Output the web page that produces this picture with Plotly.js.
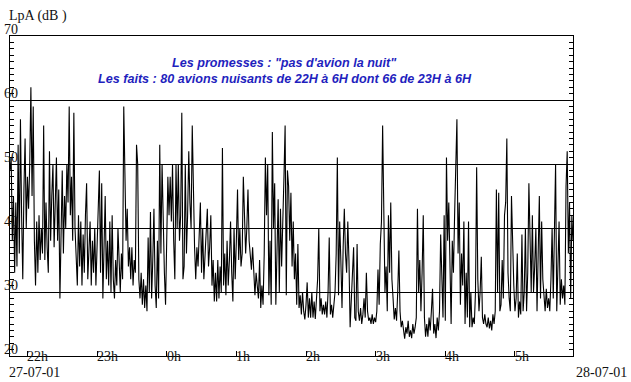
<!DOCTYPE html>
<html>
<head>
<meta charset="utf-8">
<script src="https://cdn.plot.ly/plotly-3.0.1.min.js"></script>
<style>html,body{margin:0;padding:0;background:#fff;}#chart{width:631px;height:382px;}</style>
</head>
<body>
<div id="chart"></div>
<script>
// Sampling: one value per minute, starting 27-07-01 21:45 (hour 21.75)
const startHour = 21.75;
const stepMinutes = 1;

// LpA levels in dB, one per minute
const levels = [
49, 51, 38, 45, 33, 44, 34, 53, 36, 57,
42, 32, 46, 54, 40, 48, 43, 50, 62, 45,
59, 38, 31, 41, 33, 42, 35, 40, 36, 56,
35, 44, 37, 33, 52, 38, 45, 50, 37, 44,
51, 38, 46, 29, 40, 49, 36, 45, 40, 50,
44, 59, 42, 48, 38, 58, 40, 35, 31, 42,
34, 41, 31, 39, 33, 42, 47, 32, 36, 41,
31, 38, 33, 40, 31, 36, 41, 49, 33, 47,
29, 36, 45, 32, 38, 31, 41, 30, 42, 32,
29, 35, 31, 40, 33, 30, 36, 32, 59, 45,
38, 43, 34, 37, 32, 37, 31, 35, 33, 53,
50, 32, 29, 33, 28, 32, 27.5, 31, 27, 38.5,
30, 42.5, 29, 35, 43, 31, 27.5, 38, 29, 53,
36, 50, 38, 33, 28, 40, 48, 42, 48, 41,
50, 38, 32, 50, 40, 50, 38, 42, 58, 32,
34, 50, 36, 42, 52, 44, 40, 56, 44, 37,
32, 37, 34, 39, 44, 33, 40, 32, 36, 38,
43, 34, 37, 42, 31, 35, 28.5, 33, 28.5, 35,
29, 34, 30, 52.5, 31, 36, 29.5, 38, 31, 35,
41, 33, 28.5, 40, 32, 38, 46, 35, 40, 34,
36, 48, 42, 36, 40, 46, 38, 35, 33.5, 37,
32, 29.5, 33, 31, 29, 35, 27.5, 31, 28, 36,
51, 42, 50, 29.5, 38, 28, 55, 40, 47, 28,
35, 44.5, 30, 43, 34, 40, 48, 56, 29.5, 49,
46.5, 38, 45.5, 34, 41, 32, 36, 28, 37.5, 27.5,
29.5, 26.5, 30, 27, 25.7, 28, 31.5, 26, 29, 26,
30, 26, 28.5, 25.8, 29, 32, 40, 27, 29, 26.5,
28, 26.5, 28.5, 26, 30, 38.5, 26.5, 28, 26, 28.5,
30, 36, 51, 29.5, 41, 35, 27.5, 37, 43, 36,
33, 41, 35, 24.5, 28, 32, 37, 26, 25.5, 37.5,
27, 25.5, 27.5, 25, 26.5, 29, 26, 33, 27, 25.5,
26, 25, 26.5, 25, 26, 25.3, 27, 33.5, 28, 37.5,
41, 56, 38, 30, 34, 27, 42, 33, 44, 32,
29, 25.7, 27.5, 25.5, 30, 36.5, 27, 24.5, 25.5, 23.5,
22.7, 24.5, 23.5, 25.5, 23, 24, 22.8, 25, 23.5, 24.5,
26, 43, 30, 35, 27, 33, 42, 26, 23, 25,
23, 26, 24, 27, 30.5, 23.5, 25, 22.8, 26, 24,
27, 39, 30, 26, 42, 25.5, 51, 38, 44, 33,
25, 38, 33, 42, 48, 57, 36, 44, 28, 36,
31, 41, 25, 33, 26, 41, 24.5, 30, 24.5, 26,
25, 30, 49.5, 32, 27, 30, 35.5, 26, 25, 26.5,
25, 24.5, 26, 24.3, 25.5, 24, 26.5, 25, 27, 46,
30, 45.5, 27, 28, 35, 29, 42, 44, 54, 33,
29, 27, 45, 37, 31, 27, 29, 36, 26, 28.5,
26.5, 39, 27, 30, 40, 27, 33, 47, 36, 30,
42, 30, 34, 40, 27, 34, 45, 29, 41, 32,
30, 27, 30.5, 27.5, 29, 27, 32, 40, 29, 37,
50, 27, 35, 41, 28, 32, 29, 31, 28, 46.5,
52, 36, 44, 29, 42, 38
];

// Axis ticks
const hourTicks = [22, 23, 24, 25, 26, 27, 28, 29];
const hourLabels = ["22h", "23h", "0h", "1h", "2h", "3h", "4h", "5h"];
const dbTicks = [20, 30, 40, 50, 60, 70];
const dbLabels = ["20", "30", "40", "50", "60", "70"];
const xRange = [21.75, 29.8333];
const yRange = [20, 70];

const yTitle = "LpA (dB )";
const startDate = "27-07-01";
const endDate = "28-07-01";
const titleLines = ["Les promesses : \"pas d'avion la nuit\"",
                    "Les faits : 80 avions nuisants de 22H à 6H dont 66 de 23H à 6H"];

const times = levels.map((v, i) => startHour + i * stepMinutes / 60);

const serif = "Liberation Serif, Times New Roman, serif";
const blue = "#1f1fbe";

const annotations = [];
dbTicks.forEach((v, i) => {
  annotations.push({xref: "paper", yref: "y", x: 0, y: v, text: dbLabels[i],
    xanchor: "left", yanchor: "bottom", xshift: -8, yshift: -3, showarrow: false,
    font: {family: serif, size: 14, color: "#111"}});
});
hourTicks.forEach((h, i) => {
  annotations.push({xref: "x", yref: "paper", x: h, y: 0, text: hourLabels[i],
    xanchor: "left", yanchor: "middle", xshift: -2, yshift: 0, showarrow: false,
    font: {family: serif, size: 14, color: "#111"}});
});
annotations.push({xref: "paper", yref: "paper", x: 0, y: 1.0625, text: yTitle,
  xanchor: "left", yanchor: "middle", xshift: -3, showarrow: false,
  font: {family: serif, size: 14, color: "#111"}});
annotations.push({xref: "paper", yref: "paper", x: 0, y: -0.053, text: startDate,
  xanchor: "left", yanchor: "middle", xshift: -3, showarrow: false,
  font: {family: serif, size: 14, color: "#111"}});
annotations.push({xref: "paper", yref: "paper", x: 1, y: -0.053, text: endDate,
  xanchor: "left", yanchor: "middle", xshift: 1, showarrow: false,
  font: {family: serif, size: 14, color: "#111"}});
annotations.push({xref: "paper", yref: "paper", x: 0.488, y: 0.916, text: titleLines[0],
  xanchor: "center", yanchor: "middle", showarrow: false,
  font: {family: "Liberation Sans, Arial, sans-serif", size: 12.6, color: blue, weight: "bold", style: "italic"}});
annotations.push({xref: "paper", yref: "paper", x: 0.488, y: 0.866, text: titleLines[1],
  xanchor: "center", yanchor: "middle", showarrow: false,
  font: {family: "Liberation Sans, Arial, sans-serif", size: 12.6, color: blue, weight: "bold", style: "italic"}});

const trace = {
  x: times, y: levels, type: "scatter", mode: "lines",
  line: {color: "#000", width: 1.1}, hoverinfo: "skip"
};

const layout = {
  width: 631, height: 382,
  margin: {l: 10, r: 58, t: 36, b: 26, pad: 0},
  paper_bgcolor: "#fff", plot_bgcolor: "#fff",
  showlegend: false,
  xaxis: {range: xRange, tickmode: "array", tickvals: hourTicks, showticklabels: false,
    ticks: "inside", ticklen: 5, tickcolor: "#000", tickwidth: 1,
    showline: true, linecolor: "#000", linewidth: 1, mirror: true,
    showgrid: false, zeroline: false, fixedrange: true},
  yaxis: {range: yRange, tickmode: "array", tickvals: dbTicks, showticklabels: false,
    ticks: "inside", ticklen: 5, tickcolor: "#000", tickwidth: 1,
    minor: {dtick: 1, tick0: 20, ticks: "inside", ticklen: 4, tickcolor: "#000", showgrid: false},
    showline: true, linecolor: "#000", linewidth: 1, mirror: "ticks",
    showgrid: true, gridcolor: "#000", gridwidth: 1, zeroline: false, fixedrange: true},
  annotations: annotations
};

Plotly.newPlot("chart", [trace], layout, {staticPlot: true, displayModeBar: false});
</script>
</body>
</html>
